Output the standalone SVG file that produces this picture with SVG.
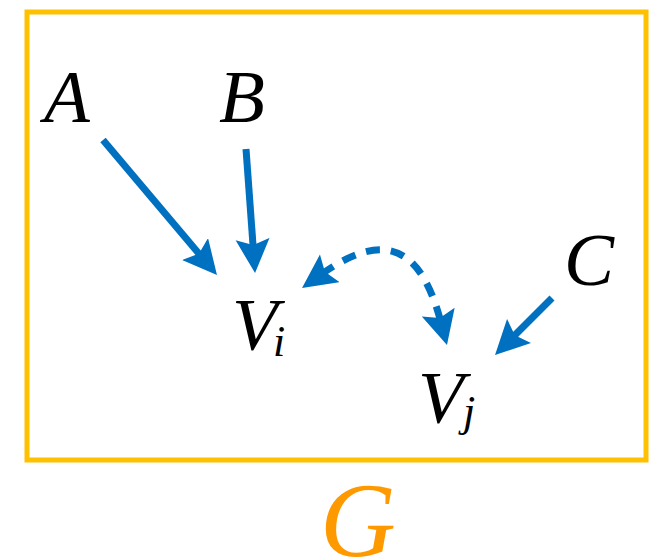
<svg xmlns="http://www.w3.org/2000/svg" width="662" height="560" viewBox="0 0 662 560">
<style>
text{font-family:'Liberation Serif','Times New Roman',serif;font-style:italic;fill:#000;}
.edge{stroke:#0070C0;stroke-width:7;fill:none;}
</style>
<defs>
<marker id="ah" markerUnits="userSpaceOnUse" markerWidth="40" markerHeight="40" refX="10" refY="17" orient="auto-start-reverse" viewBox="0 0 40 40">
<path d="M0,0 L34,17 L0,34 L6,17 z" fill="#0070C0"/>
</marker>
</defs>
<rect x="27" y="12" width="619" height="448" fill="#fff" stroke="#FFC000" stroke-width="5"/>
<g id="A"><text x="44" y="122" font-size="75">A</text></g>
<g id="B"><text x="219" y="122" font-size="75">B</text></g>
<g id="C"><text x="564" y="285" font-size="75">C</text></g>
<g id="Vi"><text x="232" y="350" font-size="75">V<tspan x="273" y="356" font-size="44">i</tspan></text></g>
<g id="Vj"><text x="418" y="423" font-size="75">V<tspan x="463" y="426" font-size="44">j</tspan></text></g>
<g id="G"><text x="320" y="556" font-size="105" style="fill:#FF9900">G</text></g>
<g id="edges">
<line class="edge" x1="103" y1="140" x2="201.5" y2="256.7" marker-end="url(#ah)"/>
<line class="edge" x1="246" y1="149" x2="253.3" y2="249.1" marker-end="url(#ah)"/>
<line class="edge" x1="552" y1="298" x2="512" y2="338" marker-end="url(#ah)"/>
<path class="edge" d="M321.6,274.1 C386.9,227.9 421.5,249.3 440.8,321.8" stroke-dasharray="14 11" marker-start="url(#ah)" marker-end="url(#ah)"/>
</g>
</svg>
